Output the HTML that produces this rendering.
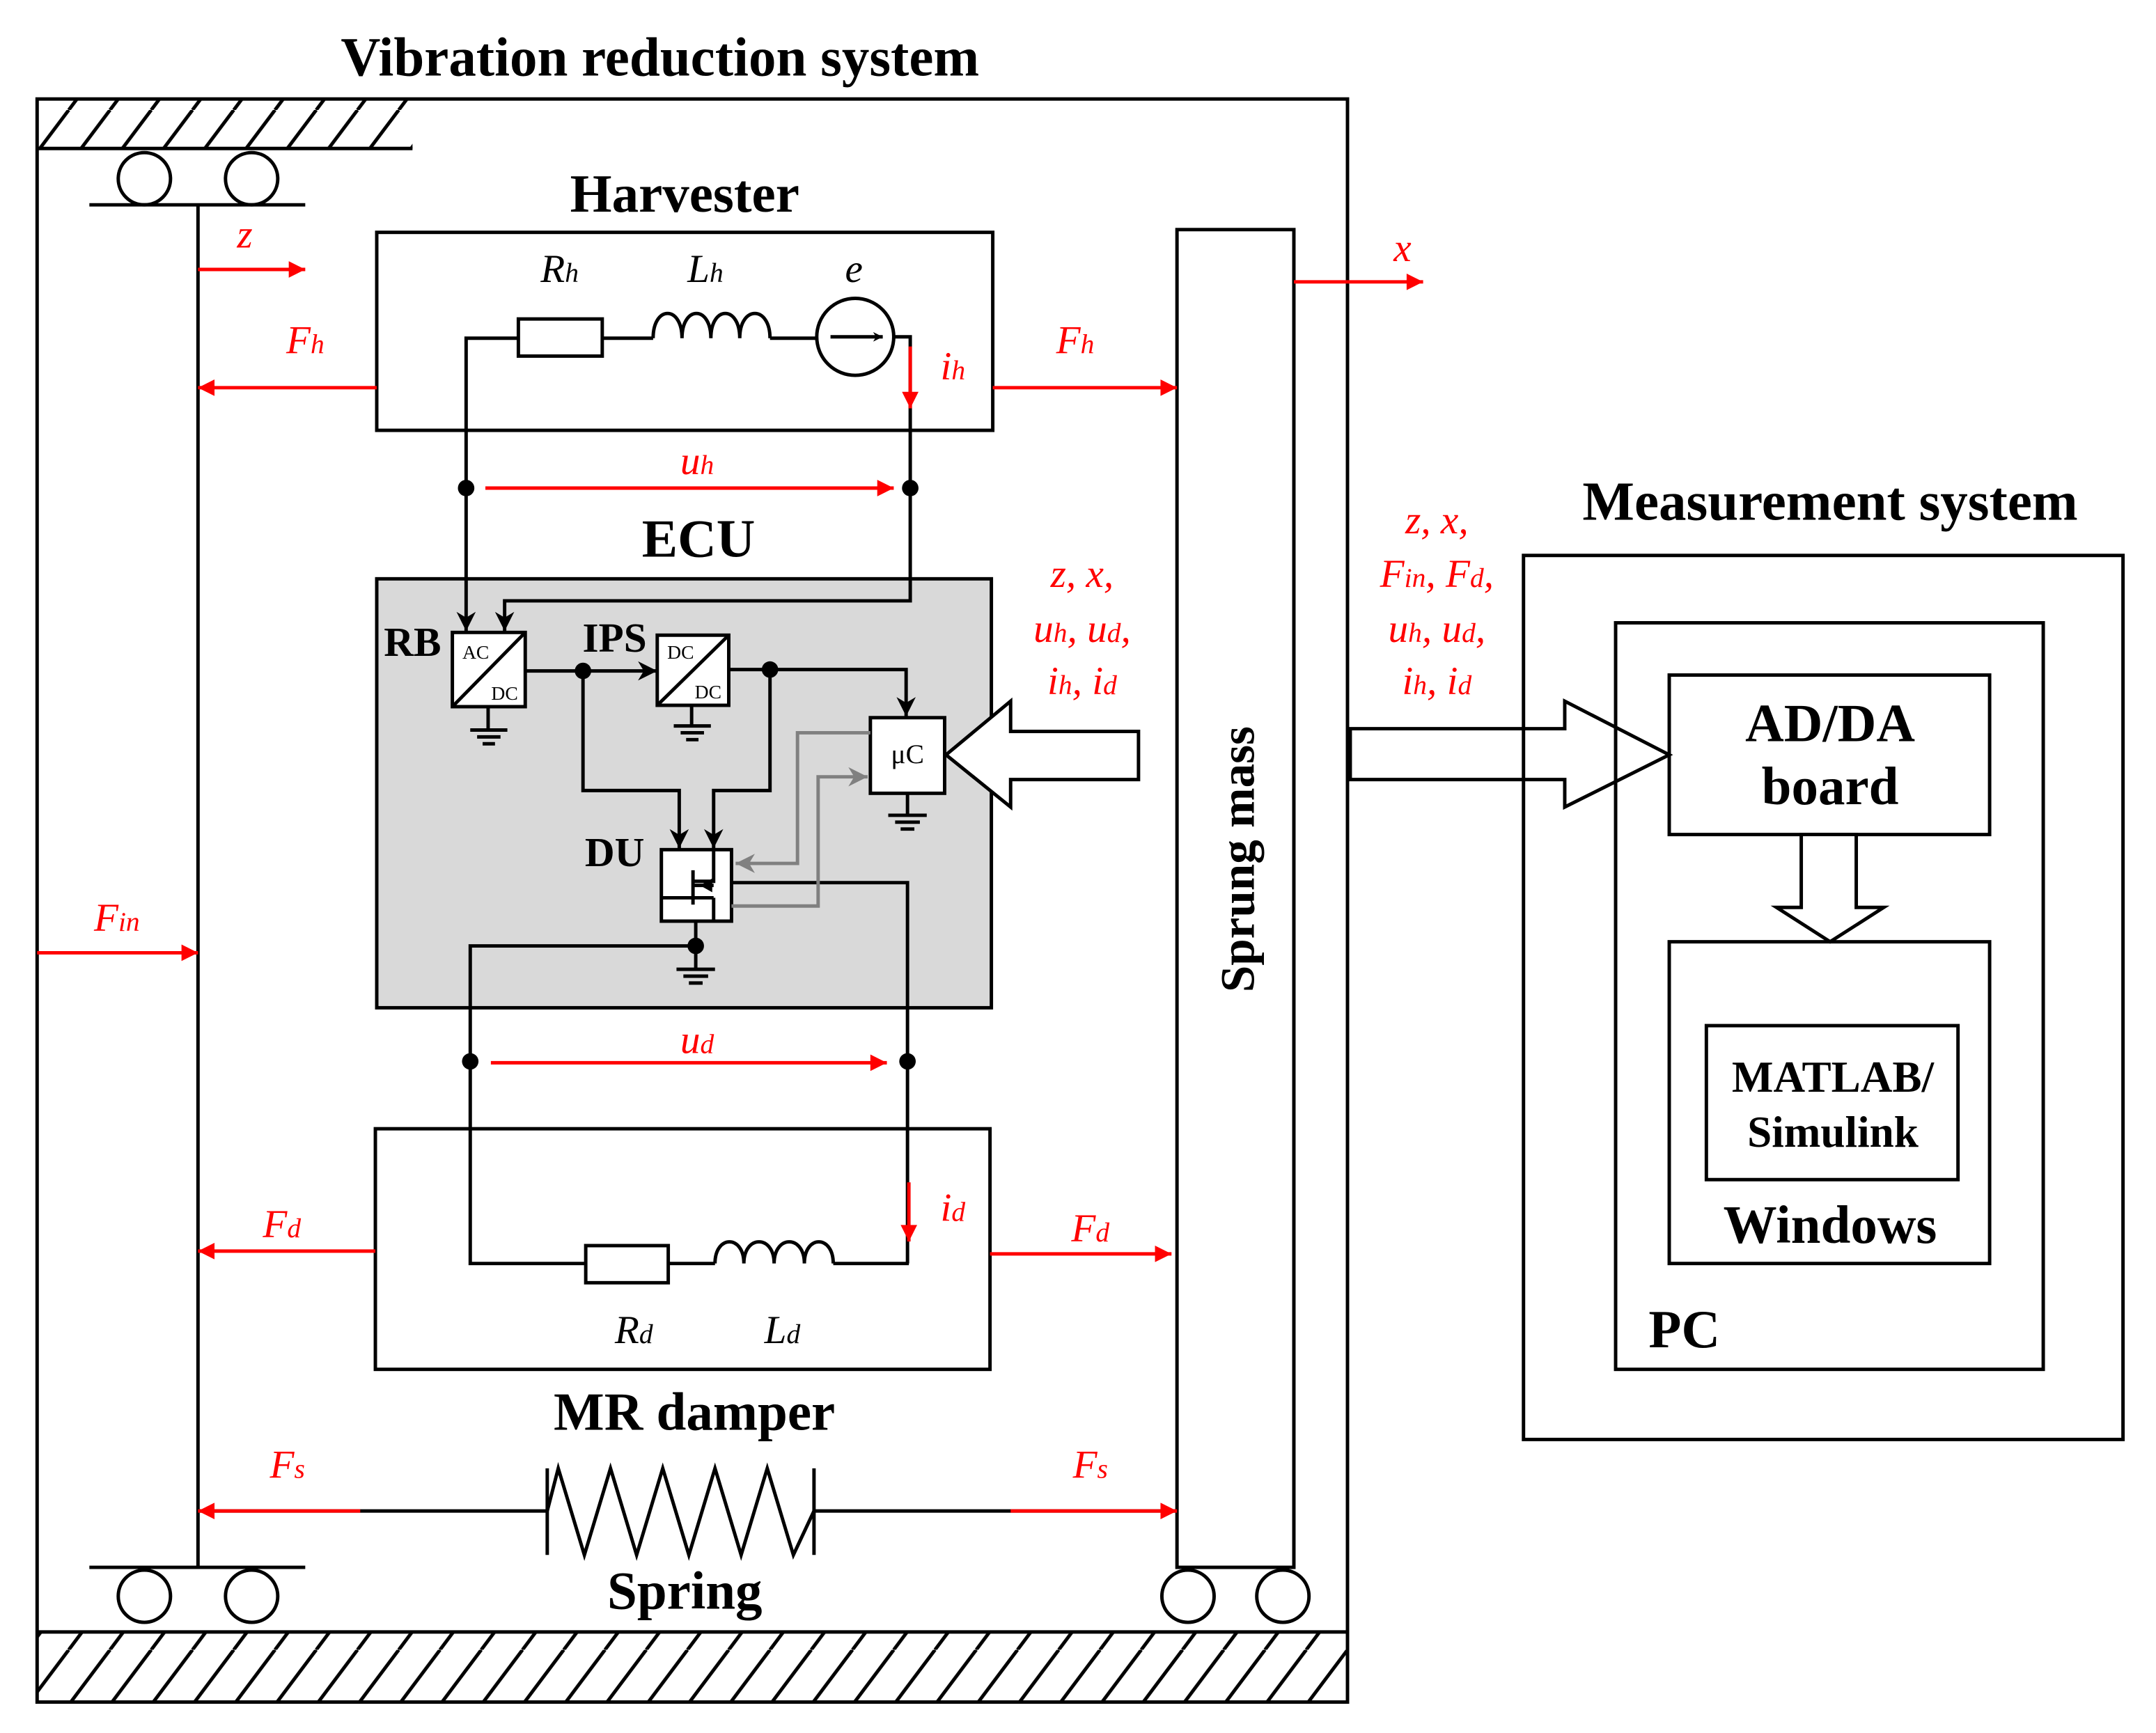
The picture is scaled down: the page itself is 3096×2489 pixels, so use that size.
<!DOCTYPE html>
<html><head><meta charset="utf-8"><style>
html,body{margin:0;padding:0;background:#fff}
svg{display:block}
.b{font-family:"Liberation Serif",serif;font-weight:bold;fill:#000}
.r{font-family:"Liberation Serif",serif;font-style:italic;fill:#f00;font-size:29px}
.k{font-family:"Liberation Serif",serif;font-style:italic;fill:#000;font-size:29px}
</style></head><body>
<svg width="3096" height="2489" viewBox="0 0 1568 1260.5" preserveAspectRatio="none" xmlns="http://www.w3.org/2000/svg">
<defs>
<marker id="ab" viewBox="0 0 10 10" refX="10" refY="5" markerWidth="7" markerHeight="7" orient="auto" markerUnits="userSpaceOnUse"><path d="M0,0 L10,5 L0,10 L3,5 z" fill="#000"/></marker>
<marker id="ar" viewBox="0 0 10 10" refX="10" refY="5" markerWidth="18" markerHeight="12" orient="auto" markerUnits="userSpaceOnUse"><path d="M0,0 L10,5 L0,10 z" fill="#f00"/></marker>
<marker id="ak" viewBox="0 0 10 10" refX="10" refY="5" markerWidth="16" markerHeight="14" orient="auto" markerUnits="userSpaceOnUse"><path d="M0,0 L10,5 L0,10 L3,5 z" fill="#000"/></marker>
<marker id="ag" viewBox="0 0 10 10" refX="10" refY="5" markerWidth="16" markerHeight="14" orient="auto" markerUnits="userSpaceOnUse"><path d="M0,0 L10,5 L0,10 L3,5 z" fill="#808080"/></marker>
<pattern id="h" width="30" height="40" patternUnits="userSpaceOnUse"><path d="M-10,40 L20,0 M20,40 L50,0" stroke="#000" stroke-width="2.5"/></pattern>
</defs>
<g fill="none" stroke="#000" stroke-width="2.5">
<rect x="27" y="72" width="953" height="1166"/>
<rect x="28" y="73" width="272" height="35" fill="url(#h)" stroke="none"/>
<line x1="27" y1="108" x2="300" y2="108"/>
<rect x="28" y="1187" width="951" height="50" fill="url(#h)" stroke="none"/>
<line x1="27" y1="1187" x2="980" y2="1187"/>
<circle cx="105" cy="130" r="19"/><circle cx="183" cy="130" r="19"/>
<line x1="65" y1="149" x2="222" y2="149"/>
<line x1="144" y1="149" x2="144" y2="1140"/>
<line x1="65" y1="1140" x2="222" y2="1140"/>
<circle cx="105" cy="1161" r="19"/><circle cx="183" cy="1161" r="19"/>
<rect x="856" y="167" width="85" height="973"/>
<circle cx="864" cy="1161" r="19"/><circle cx="933" cy="1161" r="19"/>
<rect x="274" y="169" width="448" height="144"/>
<polyline points="339,355 339,246 377,246"/>
<rect x="377" y="232" width="61" height="27"/>
<line x1="438" y1="246" x2="475" y2="246"/>
<path d="M475,246 C475,222 496,222 496,246 C496,222 517,222 517,246 C517,222 538,222 538,246 C538,222 560,222 560,246"/>
<line x1="560" y1="246" x2="594" y2="246"/>
<circle cx="622" cy="245" r="28"/>
<line x1="604" y1="245" x2="642" y2="245" marker-end="url(#ab)"/>
<polyline points="650,245 662,245 662,355"/>
<rect x="274" y="421" width="447" height="312" fill="#d9d9d9"/>
<line x1="339" y1="355" x2="339" y2="459" marker-end="url(#ak)"/>
<polyline points="662,355 662,437 367,437 367,459" marker-end="url(#ak)"/>
<rect x="329" y="460" width="53" height="54" fill="#fff"/><line x1="329" y1="514" x2="382" y2="460"/>
<line x1="355" y1="514" x2="355" y2="531"/><line x1="342" y1="531" x2="369" y2="531"/><line x1="347" y1="536" x2="364" y2="536"/><line x1="351" y1="541" x2="360" y2="541"/>
<line x1="382" y1="488" x2="478" y2="488" marker-end="url(#ak)"/>
<rect x="478" y="462" width="52" height="51" fill="#fff"/><line x1="478" y1="513" x2="530" y2="462"/>
<line x1="503" y1="513" x2="503" y2="528"/><line x1="490" y1="528" x2="517" y2="528"/><line x1="495" y1="533" x2="512" y2="533"/><line x1="499" y1="538" x2="508" y2="538"/>
<polyline points="530,487 659,487 659,521" marker-end="url(#ak)"/>
<rect x="633" y="522" width="54" height="55" fill="#fff"/>
<line x1="660" y1="577" x2="660" y2="593"/><line x1="646" y1="593" x2="674" y2="593"/><line x1="651" y1="598" x2="669" y2="598"/><line x1="655" y1="603" x2="665" y2="603"/>
<polyline points="424,488 424,575 494,575 494,617" marker-end="url(#ak)"/>
<polyline points="560,487 560,575 519,575 519,617" marker-end="url(#ak)"/>
<rect x="481" y="618" width="51" height="52" fill="#fff"/>
<polyline points="519,618 519,641 504,641" /><line x1="504" y1="633" x2="504" y2="658"/>
<line x1="504" y1="644" x2="519" y2="644"/><line x1="481" y1="653" x2="519" y2="653"/><line x1="519" y1="653" x2="519" y2="670"/>
<polyline points="532,642 660,642 660,919"/>
<polyline points="633,533 580,533 580,628 535,628" stroke="#808080" marker-end="url(#ag)"/>
<polyline points="532,659 595,659 595,565 631,565" stroke="#808080" marker-end="url(#ag)"/>
<line x1="506" y1="670" x2="506" y2="705"/><line x1="492" y1="705" x2="520" y2="705"/><line x1="497" y1="710" x2="515" y2="710"/><line x1="501" y1="715" x2="511" y2="715"/>
<polyline points="506,688 342,688 342,919 426,919"/>
<rect x="273" y="821" width="447" height="175"/>
<rect x="426" y="906" width="60" height="27"/>
<line x1="486" y1="919" x2="520" y2="919"/>
<path d="M520,919 C520,898 541,898 541,919 C541,898 563,898 563,919 C563,898 585,898 585,919 C585,898 606,898 606,919"/>
<line x1="606" y1="919" x2="661" y2="919"/>
<polyline points="144,1099 398,1099"/>
<line x1="398" y1="1068" x2="398" y2="1131"/>
<polyline points="398,1099 406,1068 425,1131 444,1068 463,1131 482,1068 501,1131 520,1068 539,1131 558,1068 577,1131 592,1099"/>
<line x1="592" y1="1068" x2="592" y2="1131"/>
<line x1="592" y1="1099" x2="856" y2="1099"/>
<polygon points="828,532 735,532 735,510 688,549 735,587 735,567 828,567" fill="#fff"/>
<polygon points="982,530 1138,530 1138,510 1214,549 1138,587 1138,567 982,567" fill="#fff"/>
<rect x="1108" y="404" width="436" height="643"/>
<rect x="1175" y="453" width="311" height="543"/>
<rect x="1214" y="491" width="233" height="116"/>
<polygon points="1310,607 1350,607 1350,660 1370,660 1331,685 1292,660 1310,660" fill="#fff"/>
<rect x="1214" y="685" width="233" height="234"/>
<rect x="1241" y="746" width="183" height="112"/>
</g>
<g fill="#000">
<circle cx="339" cy="355" r="6"/><circle cx="662" cy="355" r="6"/>
<circle cx="424" cy="488" r="6"/><circle cx="560" cy="487" r="6"/><circle cx="506" cy="688" r="6"/>
<circle cx="342" cy="772" r="6"/><circle cx="660" cy="772" r="6"/>
<path d="M509,644 l9,-5 v10 z"/>
</g>
<g stroke="#f00" stroke-width="2.5" fill="none">
<line x1="144" y1="196" x2="222" y2="196" marker-end="url(#ar)"/>
<line x1="941" y1="205" x2="1035" y2="205" marker-end="url(#ar)"/>
<line x1="274" y1="282" x2="144" y2="282" marker-end="url(#ar)"/>
<line x1="722" y1="282" x2="856" y2="282" marker-end="url(#ar)"/>
<line x1="662" y1="252" x2="662" y2="297" marker-end="url(#ar)"/>
<line x1="353" y1="355" x2="650" y2="355" marker-end="url(#ar)"/>
<line x1="357" y1="773" x2="645" y2="773" marker-end="url(#ar)"/>
<line x1="661" y1="860" x2="661" y2="903" marker-end="url(#ar)"/>
<line x1="273" y1="910" x2="144" y2="910" marker-end="url(#ar)"/>
<line x1="720" y1="912" x2="852" y2="912" marker-end="url(#ar)"/>
<line x1="262" y1="1099" x2="144" y2="1099" marker-end="url(#ar)"/>
<line x1="735" y1="1099" x2="856" y2="1099" marker-end="url(#ar)"/>
<line x1="27" y1="693" x2="144" y2="693" marker-end="url(#ar)"/>
</g>
<g text-anchor="middle">
<text class="b" x="480" y="55" font-size="40">Vibration reduction system</text>
<text class="b" x="498" y="154" font-size="39">Harvester</text>
<text class="b" x="508" y="405" font-size="39">ECU</text>
<text class="b" x="505" y="1040" font-size="39">MR damper</text>
<text class="b" x="498" y="1170" font-size="39">Spring</text>
<text class="b" x="1331" y="378" font-size="40">Measurement system</text>
<text class="b" x="1331" y="539" font-size="39">AD/DA</text>
<text class="b" x="1331" y="585" font-size="39">board</text>
<text class="b" x="1333" y="794" font-size="32">MATLAB/</text>
<text class="b" x="1333" y="834" font-size="32">Simulink</text>
<text class="b" x="1331" y="904" font-size="39">Windows</text>
<text class="b" x="1225" y="980" font-size="39">PC</text>
<text class="b" x="300" y="477" font-size="30">RB</text>
<text class="b" x="447" y="474" font-size="30">IPS</text>
<text class="b" x="447" y="630" font-size="30">DU</text>
<text class="b" transform="translate(912,625) rotate(-90)" font-size="35">Sprung mass</text>
<text x="346" y="479" font-size="14" font-family="Liberation Serif,serif">AC</text>
<text x="367" y="509" font-size="14" font-family="Liberation Serif,serif">DC</text>
<text x="495" y="479" font-size="14" font-family="Liberation Serif,serif">DC</text>
<text x="515" y="508" font-size="14" font-family="Liberation Serif,serif">DC</text>
<text x="660" y="555" font-size="20" font-family="Liberation Serif,serif">μC</text>
<text class="k" x="407" y="205">R<tspan font-size="20">h</tspan></text>
<text class="k" x="513" y="205">L<tspan font-size="20">h</tspan></text>
<text class="k" x="621" y="205">e</text>
<text class="k" x="461" y="977">R<tspan font-size="20">d</tspan></text>
<text class="k" x="569" y="977">L<tspan font-size="20">d</tspan></text>
<text class="r" x="178" y="180">z</text>
<text class="r" x="1020" y="190">x</text>
<text class="r" x="222" y="257">F<tspan font-size="20">h</tspan></text>
<text class="r" x="782" y="257">F<tspan font-size="20">h</tspan></text>
<text class="r" x="693" y="276">i<tspan font-size="20">h</tspan></text>
<text class="r" x="507" y="345">u<tspan font-size="20">h</tspan></text>
<text class="r" x="507" y="766">u<tspan font-size="20">d</tspan></text>
<text class="r" x="693" y="888">i<tspan font-size="20">d</tspan></text>
<text class="r" x="205" y="900">F<tspan font-size="20">d</tspan></text>
<text class="r" x="793" y="903">F<tspan font-size="20">d</tspan></text>
<text class="r" x="209" y="1075">F<tspan font-size="20">s</tspan></text>
<text class="r" x="793" y="1075">F<tspan font-size="20">s</tspan></text>
<text class="r" x="85" y="677">F<tspan font-size="20">in</tspan></text>
<text class="r" x="787" y="427">z, x,</text>
<text class="r" x="787" y="467">u<tspan font-size="20">h</tspan>, u<tspan font-size="20">d</tspan>,</text>
<text class="r" x="787" y="505">i<tspan font-size="20">h</tspan>, i<tspan font-size="20">d</tspan></text>
<text class="r" x="1045" y="388">z, x,</text>
<text class="r" x="1045" y="427">F<tspan font-size="20">in</tspan>, F<tspan font-size="20">d</tspan>,</text>
<text class="r" x="1045" y="467">u<tspan font-size="20">h</tspan>, u<tspan font-size="20">d</tspan>,</text>
<text class="r" x="1045" y="505">i<tspan font-size="20">h</tspan>, i<tspan font-size="20">d</tspan></text>
</g>
</svg>
</body></html>
